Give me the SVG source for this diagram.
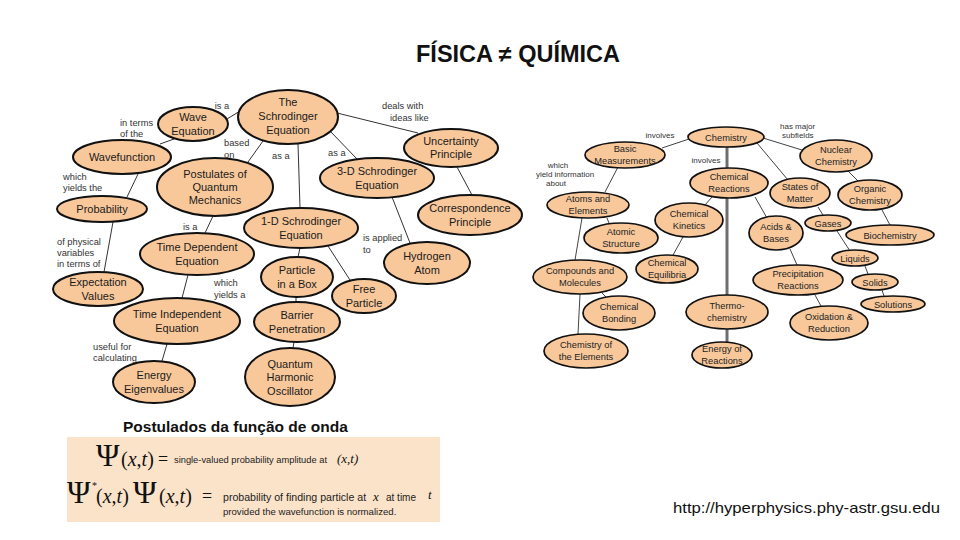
<svg xmlns="http://www.w3.org/2000/svg" width="960" height="540" viewBox="0 0 960 540">
<style>
.pn{fill:#f8c89b;stroke:#111;stroke-width:2}
.cn{fill:#f8c89b;stroke:#111;stroke-width:1.7}
.pt{font-family:"Liberation Sans",Arial,sans-serif;font-size:11px;fill:#1a1a1a;text-anchor:middle}
.ct{font-family:"Liberation Sans",Arial,sans-serif;font-size:9.3px;fill:#222;text-anchor:middle}
.pl{font-family:"Liberation Sans",Arial,sans-serif;font-size:9.3px;fill:#333}
.cl{font-family:"Liberation Sans",Arial,sans-serif;font-size:8px;fill:#333}
.ln{stroke:#333;stroke-width:1;fill:none}
.cln{stroke:#444;stroke-width:1;fill:none}
.ser{font-family:"Liberation Serif","Times New Roman",serif;fill:#111}
.sm{font-family:"Liberation Sans",Arial,sans-serif;fill:#222}
</style>
<rect width="960" height="540" fill="#fff"/>
<text x="518" y="62" font-family="Liberation Sans,Arial,sans-serif" font-weight="bold" font-size="23.5" fill="#111" text-anchor="middle">FÍSICA ≠ QUÍMICA</text>

<g id="connectors">
<line class="ln" x1="227" y1="119" x2="240" y2="111"/>
<line class="ln" x1="174" y1="139" x2="160" y2="144"/>
<line class="ln" x1="138" y1="174" x2="127" y2="197"/>
<line class="ln" x1="263" y1="141" x2="248" y2="162"/>
<line class="ln" x1="298" y1="144" x2="300" y2="208"/>
<line class="ln" x1="331" y1="132" x2="357" y2="159"/>
<line class="ln" x1="337" y1="113" x2="418" y2="133"/>
<line class="ln" x1="457" y1="167" x2="472" y2="195"/>
<line class="ln" x1="392" y1="197" x2="410" y2="243"/>
<line class="ln" x1="213" y1="216" x2="205" y2="233"/>
<line class="ln" x1="113" y1="222" x2="104" y2="272"/>
<line class="ln" x1="188" y1="275" x2="182" y2="298"/>
<line class="ln" x1="167" y1="344" x2="162" y2="361"/>
<line class="ln" x1="300" y1="248" x2="298" y2="257"/>
<line class="ln" x1="328" y1="246" x2="350" y2="280"/>
<line class="ln" x1="296" y1="297" x2="296" y2="302"/>
<line class="ln" x1="294" y1="342" x2="293" y2="348"/>

<line x1="727" y1="147" x2="727" y2="342" stroke="#6e6e6e" stroke-width="3"/>
<line class="cln" x1="689" y1="139" x2="662" y2="148"/>
<line class="cln" x1="763" y1="138" x2="802" y2="150"/>
<line class="cln" x1="757" y1="143" x2="788" y2="180"/>
<line class="cln" x1="848" y1="171" x2="858" y2="181"/>
<line class="cln" x1="882" y1="210" x2="890" y2="225"/>
<line class="cln" x1="755" y1="197" x2="767" y2="218"/>
<line class="cln" x1="818" y1="207" x2="823" y2="215"/>
<line class="cln" x1="837" y1="231" x2="850" y2="251"/>
<line class="cln" x1="865" y1="266" x2="868" y2="274"/>
<line class="cln" x1="882" y1="290" x2="884" y2="296"/>
<line class="cln" x1="790" y1="249" x2="797" y2="265"/>
<line class="cln" x1="815" y1="295" x2="821" y2="306"/>
<line class="cln" x1="618" y1="167" x2="605" y2="192"/>
<line class="cln" x1="607" y1="218" x2="609" y2="223"/>
<line class="cln" x1="582" y1="218" x2="575" y2="260"/>
<line class="cln" x1="602" y1="293" x2="606" y2="297"/>
<line class="cln" x1="580" y1="294" x2="578" y2="334"/>
<line class="cln" x1="712" y1="197" x2="705" y2="205"/>
<line class="cln" x1="683" y1="237" x2="673" y2="255"/>

<text class="pl" x="222" y="109" text-anchor="middle">is a</text>
<text class="pl" x="120" y="126">in terms</text>
<text class="pl" x="120" y="137">of the</text>
<text class="pl" x="224" y="146">based</text>
<text class="pl" x="224" y="158">on</text>
<text class="pl" x="272" y="159">as a</text>
<text class="pl" x="63" y="180">which</text>
<text class="pl" x="63" y="191">yields the</text>
<text class="pl" x="183" y="230">is a</text>
<text class="pl" x="382" y="109">deals with</text>
<text class="pl" x="390" y="121">ideas like</text>
<text class="pl" x="328" y="156">as a</text>
<text class="pl" x="57" y="245">of physical</text>
<text class="pl" x="57" y="256">variables</text>
<text class="pl" x="57" y="267">in terms of</text>
<text class="pl" x="214" y="286">which</text>
<text class="pl" x="214" y="298">yields a</text>
<text class="pl" x="93" y="350">useful for</text>
<text class="pl" x="93" y="361">calculating</text>
<text class="pl" x="363" y="241">is applied</text>
<text class="pl" x="363" y="253">to</text>

<text class="cl" x="660" y="138" text-anchor="middle">involves</text>
<text class="cl" x="706" y="163" text-anchor="middle">involves</text>
<text class="cl" x="558" y="168" text-anchor="middle">which</text>
<text class="cl" x="565" y="177" text-anchor="middle">yield information</text>
<text class="cl" x="556" y="186" text-anchor="middle">about</text>
<text class="cl" x="780" y="129">has major</text>
<text class="cl" x="782" y="138">subfields</text>
</g>

<g id="n-schrodinger"><ellipse class="pn" cx="288" cy="117" rx="50" ry="27"/><text class="pt"><tspan x="288" y="106">The</tspan><tspan x="288" y="120">Schrodinger</tspan><tspan x="288" y="134">Equation</tspan></text></g>
<g id="n-wave"><ellipse class="pn" cx="193" cy="124" rx="35" ry="17"/><text class="pt"><tspan x="193" y="121">Wave</tspan><tspan x="193" y="135">Equation</tspan></text></g>
<g id="n-wavefunction"><ellipse class="pn" cx="122" cy="157" rx="49" ry="17"/><text class="pt" x="122" y="161">Wavefunction</text></g>
<g id="n-postulates"><ellipse class="pn" cx="215" cy="187" rx="58" ry="29"/><text class="pt"><tspan x="215" y="178">Postulates of</tspan><tspan x="215" y="191">Quantum</tspan><tspan x="215" y="204">Mechanics</tspan></text></g>
<g id="n-probability"><ellipse class="pn" cx="102" cy="209" rx="45" ry="13"/><text class="pt" x="102" y="213">Probability</text></g>
<g id="n-uncertainty"><ellipse class="pn" cx="451" cy="148" rx="47" ry="19"/><text class="pt"><tspan x="451" y="145">Uncertainty</tspan><tspan x="451" y="158">Principle</tspan></text></g>
<g id="n-3d"><ellipse class="pn" cx="377" cy="178" rx="57" ry="20"/><text class="pt"><tspan x="377" y="175">3-D Schrodinger</tspan><tspan x="377" y="189">Equation</tspan></text></g>
<g id="n-1d"><ellipse class="pn" cx="301" cy="228" rx="57" ry="20"/><text class="pt"><tspan x="301" y="225">1-D Schrodinger</tspan><tspan x="301" y="239">Equation</tspan></text></g>
<g id="n-correspondence"><ellipse class="pn" cx="470" cy="215" rx="52" ry="20"/><text class="pt"><tspan x="470" y="212">Correspondence</tspan><tspan x="470" y="226">Principle</tspan></text></g>
<g id="n-timedep"><ellipse class="pn" cx="197" cy="254" rx="57" ry="21"/><text class="pt"><tspan x="197" y="251">Time Dependent</tspan><tspan x="197" y="265">Equation</tspan></text></g>
<g id="n-expectation"><ellipse class="pn" cx="98" cy="289" rx="45" ry="17"/><text class="pt"><tspan x="98" y="286">Expectation</tspan><tspan x="98" y="300">Values</tspan></text></g>
<g id="n-timeindep"><ellipse class="pn" cx="177" cy="321" rx="63" ry="23"/><text class="pt"><tspan x="177" y="318">Time Independent</tspan><tspan x="177" y="332">Equation</tspan></text></g>
<g id="n-energy"><ellipse class="pn" cx="154" cy="382" rx="41" ry="21"/><text class="pt"><tspan x="154" y="379">Energy</tspan><tspan x="154" y="393">Eigenvalues</tspan></text></g>
<g id="n-particlebox"><ellipse class="pn" cx="297" cy="277" rx="36" ry="20"/><text class="pt"><tspan x="297" y="274">Particle</tspan><tspan x="297" y="288">in a Box</tspan></text></g>
<g id="n-free"><ellipse class="pn" cx="364" cy="296" rx="32" ry="17"/><text class="pt"><tspan x="364" y="293">Free</tspan><tspan x="364" y="307">Particle</tspan></text></g>
<g id="n-barrier"><ellipse class="pn" cx="297" cy="322" rx="43" ry="20"/><text class="pt"><tspan x="297" y="319">Barrier</tspan><tspan x="297" y="333">Penetration</tspan></text></g>
<g id="n-qho"><ellipse class="pn" cx="290" cy="377" rx="45" ry="29"/><text class="pt"><tspan x="290" y="368">Quantum</tspan><tspan x="290" y="381">Harmonic</tspan><tspan x="290" y="395">Oscillator</tspan></text></g>
<g id="n-hydrogen"><ellipse class="pn" cx="427" cy="263" rx="43" ry="21"/><text class="pt"><tspan x="427" y="260">Hydrogen</tspan><tspan x="427" y="274">Atom</tspan></text></g>

<g id="c-chemistry"><ellipse class="cn" cx="726" cy="137" rx="38" ry="10"/><text class="ct" x="726" y="140.5">Chemistry</text></g>
<g id="c-basic"><ellipse class="cn" cx="625" cy="155" rx="40" ry="13"/><text class="ct"><tspan x="625" y="152">Basic</tspan><tspan x="625" y="163.5">Measurements</tspan></text></g>
<g id="c-nuclear"><ellipse class="cn" cx="836" cy="156" rx="36" ry="16"/><text class="ct"><tspan x="836" y="153">Nuclear</tspan><tspan x="836" y="165">Chemistry</tspan></text></g>
<g id="c-reactions"><ellipse class="cn" cx="729" cy="183" rx="39" ry="15"/><text class="ct"><tspan x="729" y="180">Chemical</tspan><tspan x="729" y="192">Reactions</tspan></text></g>
<g id="c-states"><ellipse class="cn" cx="800" cy="193" rx="30" ry="15"/><text class="ct"><tspan x="800" y="190">States of</tspan><tspan x="800" y="202">Matter</tspan></text></g>
<g id="c-organic"><ellipse class="cn" cx="870" cy="195" rx="32" ry="15"/><text class="ct"><tspan x="870" y="192">Organic</tspan><tspan x="870" y="204">Chemistry</tspan></text></g>
<g id="c-atoms"><ellipse class="cn" cx="588" cy="205" rx="41" ry="13"/><text class="ct"><tspan x="588" y="202">Atoms and</tspan><tspan x="588" y="213.5">Elements</tspan></text></g>
<g id="c-kinetics"><ellipse class="cn" cx="689" cy="220" rx="34" ry="17"/><text class="ct"><tspan x="689" y="217">Chemical</tspan><tspan x="689" y="229">Kinetics</tspan></text></g>
<g id="c-atomic"><ellipse class="cn" cx="621" cy="238" rx="37" ry="15"/><text class="ct"><tspan x="621" y="235">Atomic</tspan><tspan x="621" y="247">Structure</tspan></text></g>
<g id="c-acids"><ellipse class="cn" cx="776" cy="233" rx="27" ry="17"/><text class="ct"><tspan x="776" y="230">Acids &amp;</tspan><tspan x="776" y="242">Bases</tspan></text></g>
<g id="c-gases"><ellipse class="cn" cx="828" cy="223" rx="23" ry="8"/><text class="ct" x="828" y="226.5">Gases</text></g>
<g id="c-biochem"><ellipse class="cn" cx="890" cy="235" rx="44" ry="10"/><text class="ct" x="890" y="238.5">Biochemistry</text></g>
<g id="c-liquids"><ellipse class="cn" cx="855" cy="258" rx="23" ry="8"/><text class="ct" x="855" y="261.5">Liquids</text></g>
<g id="c-solids"><ellipse class="cn" cx="875" cy="282" rx="23" ry="8"/><text class="ct" x="875" y="285.5">Solids</text></g>
<g id="c-solutions"><ellipse class="cn" cx="893" cy="304" rx="32" ry="8"/><text class="ct" x="893" y="307.5">Solutions</text></g>
<g id="c-precip"><ellipse class="cn" cx="798" cy="280" rx="45" ry="15"/><text class="ct"><tspan x="798" y="277">Precipitation</tspan><tspan x="798" y="289">Reactions</tspan></text></g>
<g id="c-oxidation"><ellipse class="cn" cx="829" cy="323" rx="39" ry="17"/><text class="ct"><tspan x="829" y="320">Oxidation &amp;</tspan><tspan x="829" y="332">Reduction</tspan></text></g>
<g id="c-compounds"><ellipse class="cn" cx="580" cy="277" rx="47" ry="17"/><text class="ct"><tspan x="580" y="274">Compounds and</tspan><tspan x="580" y="286">Molecules</tspan></text></g>
<g id="c-equilibria"><ellipse class="cn" cx="667" cy="269" rx="31" ry="14"/><text class="ct"><tspan x="667" y="266">Chemical</tspan><tspan x="667" y="278">Equilibria</tspan></text></g>
<g id="c-bonding"><ellipse class="cn" cx="619" cy="313" rx="36" ry="17"/><text class="ct"><tspan x="619" y="310">Chemical</tspan><tspan x="619" y="322">Bonding</tspan></text></g>
<g id="c-elements"><ellipse class="cn" cx="586" cy="351" rx="42" ry="17"/><text class="ct"><tspan x="586" y="348">Chemistry of</tspan><tspan x="586" y="360">the Elements</tspan></text></g>
<g id="c-thermo"><ellipse class="cn" cx="727" cy="312" rx="41" ry="17"/><text class="ct"><tspan x="727" y="309">Thermo-</tspan><tspan x="727" y="321">chemistry</tspan></text></g>
<g id="c-energyr"><ellipse class="cn" cx="722" cy="355" rx="30" ry="13"/><text class="ct"><tspan x="722" y="352">Energy of</tspan><tspan x="722" y="363.5">Reactions</tspan></text></g>

<text x="123" y="432" font-family="Liberation Sans,Arial,sans-serif" font-weight="bold" font-size="15.5" fill="#111">Postulados da função de onda</text>

<g id="formula-box">
<rect x="67" y="437" width="373" height="85" fill="#fbe3c9"/>
<text class="ser" x="96" y="466" font-size="32">Ψ</text>
<text class="ser" x="121" y="466" font-size="20">(<tspan font-style="italic">x</tspan>,<tspan font-style="italic">t</tspan>)</text>
<text class="ser" x="158" y="465" font-size="18">=</text>
<text class="sm" x="174" y="463" font-size="9.3">single-valued probability amplitude at</text>
<text class="ser" x="337" y="463" font-size="13" font-style="italic">(x,t)</text>
<text class="ser" x="67" y="503" font-size="32">Ψ</text>
<text class="ser" x="92" y="489" font-size="10">*</text>
<text class="ser" x="96" y="503" font-size="20">(<tspan font-style="italic">x</tspan>,<tspan font-style="italic">t</tspan>)</text>
<text class="ser" x="133" y="503" font-size="32">Ψ</text>
<text class="ser" x="159" y="503" font-size="20">(<tspan font-style="italic">x</tspan>,<tspan font-style="italic">t</tspan>)</text>
<text class="ser" x="202" y="502" font-size="18">=</text>
<text class="sm" x="223" y="501" font-size="10.6">probability of finding particle at</text>
<text class="ser" x="373" y="501" font-size="13" font-style="italic">x</text>
<text class="sm" x="386" y="501" font-size="10">at time</text>
<text class="ser" x="428" y="499" font-size="13" font-style="italic">t</text>
<text class="sm" x="223" y="515" font-size="9.6">provided the wavefunction is normalized.</text>
</g>

<text x="673" y="513" font-family="Liberation Sans,Arial,sans-serif" font-size="15" fill="#111" textLength="267" lengthAdjust="spacingAndGlyphs">http://hyperphysics.phy-astr.gsu.edu</text>
</svg>
